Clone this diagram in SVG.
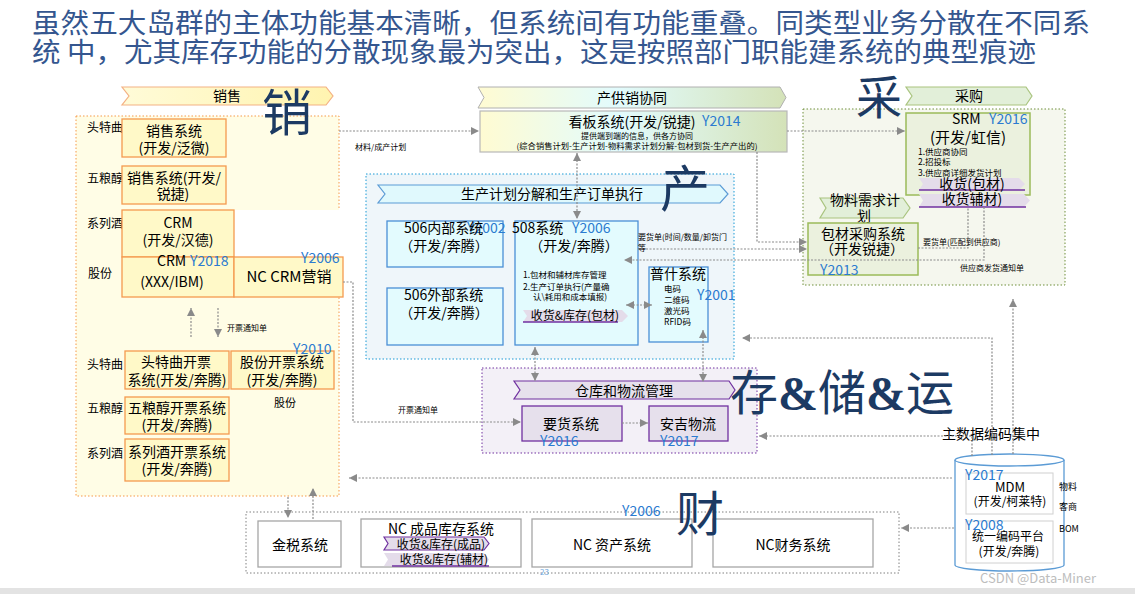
<svg xmlns="http://www.w3.org/2000/svg" width="1135" height="594" viewBox="0 0 1135 594">
<defs>
<linearGradient id="gKb" x1="0" y1="0" x2="1" y2="0">
<stop offset="0" stop-color="#fffbd2"/><stop offset="0.45" stop-color="#e2fbfd"/><stop offset="1" stop-color="#d4e2b8"/>
</linearGradient>
<linearGradient id="gSale" x1="0" y1="0" x2="1" y2="0">
<stop offset="0" stop-color="#fffbd8"/><stop offset="1" stop-color="#fff4b0"/>
</linearGradient>
<marker id="ar" viewBox="0 0 10 10" refX="10" refY="5" markerWidth="8" markerHeight="8" markerUnits="userSpaceOnUse" orient="auto-start-reverse">
<path d="M0,0 L10,5 L0,10 z" fill="#8a8a8a"/>
</marker>
<style>
text{font-family:"Noto Sans CJK SC","Noto Sans",sans-serif;fill:#000}
.t14{font-size:14px}
.t12{font-size:12px}
.lb{font-size:12px}
.sm{font-size:8.5px}
.xs{font-size:8px}
.yr{font-size:14px;fill:#2b7bd0}
.mid{text-anchor:middle}
.wm{font-size:50px;fill:#1c3a63}
.ttl{font-size:27px;fill:#34568f;font-weight:400}
.saleC{fill:#fffde6;stroke:#f59a4a;stroke-width:1;stroke-dasharray:1.5 2}
.saleB{fill:#fff9c8;stroke:#f49a4f;stroke-width:1.3}
.prodC{fill:#eff6fa;stroke:#1a9ad6;stroke-width:1;stroke-dasharray:1.5 2}
.prodB{fill:#e3fbfe;stroke:#4a8fd6;stroke-width:1.3}
.purC{fill:#f5f7ee;stroke:#6f8f3a;stroke-width:1;stroke-dasharray:1.5 2}
.purB{fill:#ebf1de;stroke:#9bbb59;stroke-width:1.5}
.whC{fill:#f3f0f7;stroke:#7030a0;stroke-width:1;stroke-dasharray:1.5 2}
.whB{fill:#e6e0ec;stroke:#7030a0;stroke-width:1.3}
.finC{fill:#ffffff;stroke:#808080;stroke-width:1;stroke-dasharray:1.5 2}
.finB{fill:#ffffff;stroke:#a6a6a6;stroke-width:1.3}
.rib{fill:#e4dcea}
.ul{stroke:#7030a0;stroke-width:1.5}
.cn{fill:none;stroke:#8c8c8c;stroke-width:1.2;stroke-dasharray:2 1.5}
.e{marker-end:url(#ar)}
.b{marker-start:url(#ar);marker-end:url(#ar)}
</style>
</defs>
<rect x="0" y="0" width="1135" height="594" fill="#ffffff"/>
<rect x="0" y="588" width="1135" height="6" fill="#e3e3e3"/>

<g id="title">
<text class="ttl" x="32" y="33" textLength="1058" lengthAdjust="spacingAndGlyphs">虽然五大岛群的主体功能基本清晰，但系统间有功能重叠。同类型业务分散在不同系</text>
<text class="ttl" x="32" y="62" textLength="1004" lengthAdjust="spacingAndGlyphs">统 中，尤其库存功能的分散现象最为突出，这是按照部门职能建系统的典型痕迹</text>
</g>

<!-- Sales -->
<g id="sales">
<polygon points="122,87 326,87 333,96 326,105 122,105 129,96" fill="url(#gSale)" stroke="#f4b183" stroke-width="1.2"/>
<text class="t14 mid" x="227" y="101">销售</text>
<rect class="saleC" x="76" y="116" width="263" height="380"/>
<rect x="234" y="210" width="109" height="47" fill="#ffffff"/>
<text class="lb" x="87" y="132">头特曲</text>
<text class="lb" x="87" y="183">五粮醇</text>
<text class="lb" x="87" y="228">系列酒</text>
<text class="lb" x="88" y="278">股份</text>
</g>
<g id="sales-sys-1">
<rect class="saleB" x="122" y="119" width="104" height="38"/>
<text class="t14 mid" x="174" y="136">销售系统</text>
<text class="t14 mid" x="174" y="153">(开发/泛微)</text>
</g>
<g id="sales-sys-2">
<rect class="saleB" x="122" y="166" width="104" height="38"/>
<text class="t14 mid" x="174" y="183">销售系统(开发/</text>
<text class="t14 mid" x="173" y="199">锐捷)</text>
</g>
<g id="crm-handa">
<rect class="saleB" x="122" y="210" width="112" height="47"/>
<text class="t14 mid" x="178" y="227.5">CRM</text>
<text class="t14 mid" x="178" y="245">(开发/汉德)</text>
</g>
<g id="crm-ibm">
<rect class="saleB" x="122" y="257" width="112" height="40"/>
<text class="t14" x="157" y="266">CRM</text>
<text class="yr" x="190" y="266">Y2018</text>
<text class="t14 mid" x="172" y="287">(XXX/IBM)</text>
</g>
<g id="nc-crm">
<rect class="saleB" x="234" y="257" width="109" height="40"/>
<text class="yr" x="301" y="263">Y2006</text>
<text class="mid" x="289" y="282" style="font-size:15px">NC CRM营销</text>
</g>
<g id="inv-ttq">
<rect class="saleB" x="125" y="351" width="104" height="38"/>
<text class="t14 mid" x="176" y="367">头特曲开票</text>
<text class="t14 mid" x="177" y="385">系统(开发/奔腾)</text>
</g>
<g id="inv-gf">
<rect class="saleB" x="231" y="351" width="103" height="38"/>
<text class="t14 mid" x="282" y="367">股份开票系统</text>
<text class="t14 mid" x="282" y="385">(开发/奔腾)</text>
<text class="yr" x="293" y="354">Y2010</text>
<text class="mid" x="285" y="407" style="font-size:11px">股份</text>
</g>
<g id="inv-wlc">
<rect class="saleB" x="125" y="397" width="104" height="37"/>
<text class="t14 mid" x="177" y="413">五粮醇开票系统</text>
<text class="t14 mid" x="177" y="430">(开发/奔腾)</text>
</g>
<g id="inv-xlj">
<rect class="saleB" x="125" y="439" width="104" height="42"/>
<text class="t14 mid" x="177" y="457">系列酒开票系统</text>
<text class="t14 mid" x="177" y="474">(开发/奔腾)</text>
</g>
<g id="sales-labels">
<text class="lb" x="87" y="369">头特曲</text>
<text class="lb" x="87" y="413">五粮醇</text>
<text class="lb" x="87" y="458">系列酒</text>
</g>

<!-- Kanban -->
<g id="kanban">
<polygon points="478,87 780,87 786,97.5 780,108 478,108 484,97.5" fill="url(#gKb)" stroke="#b0b0b0" stroke-width="1"/>
<text class="t14 mid" x="632" y="103">产供销协同</text>
<rect x="480" y="111" width="307" height="41" fill="url(#gKb)" stroke="#b8b8b8" stroke-width="1.2"/>
<text class="t14 mid" x="632" y="127">看板系统(开发/锐捷)</text>
<text class="yr" x="702" y="126">Y2014</text>
<text class="xs mid" x="637" y="139">提供端到端的信息，供各方协同</text>
<text class="xs mid" x="637" y="149" textLength="241" lengthAdjust="spacingAndGlyphs">(综合销售计划-生产计划-物料需求计划分解-包材到货-生产产出的)</text>
</g>

<!-- Production -->
<g id="production">
<rect class="prodC" x="366" y="174" width="368" height="185"/>
<polygon points="378,185 720,185 728,194 720,203 378,203 385,194" fill="#e0f9fd" stroke="#5b9bd5" stroke-width="1.2"/>
<text class="t14 mid" x="552" y="199">生产计划分解和生产订单执行</text>
</g>
<g id="sys-506-in">
<rect class="prodB" x="387" y="221" width="116" height="46"/>
<text class="yr" x="467" y="233">Y2002</text>
<text class="t14" x="404" y="233">506内部系统</text>
<text class="t14 mid" x="444" y="251">（开发/奔腾）</text>
</g>
<g id="sys-506-out">
<rect class="prodB" x="387" y="288" width="116" height="57"/>
<text class="t14" x="404" y="300">506外部系统</text>
<text class="t14 mid" x="444" y="318">（开发/奔腾）</text>
</g>
<g id="sys-508">
<rect class="prodB" x="515" y="221" width="123" height="124"/>
<text class="t14" x="512" y="233">508系统</text>
<text class="yr" x="572" y="233">Y2006</text>
<text class="t14 mid" x="574" y="251">（开发/奔腾）</text>
<text class="sm" x="523" y="278">1.包材和辅材库存管理</text>
<text class="sm" x="523" y="290">2.生产订单执行(产量确</text>
<text class="sm" x="533" y="300">认\耗用和成本填报)</text>
<polygon class="rib" points="523,310 622,310 628,316 622,322 523,322 527,316"/>
<line class="ul" x1="523" y1="322" x2="618" y2="322"/>
<text class="t12 mid" x="575" y="320">收货&amp;库存(包材)</text>
</g>
<g id="pushi">
<rect class="prodB" x="649" y="267" width="59" height="75"/>
<text class="t14 mid" x="678" y="279">普什系统</text>
<text class="sm" x="664" y="292">电码</text>
<text class="sm" x="664" y="303">二维码</text>
<text class="sm" x="664" y="314">激光码</text>
<text class="sm" x="664" y="325">RFID码</text>
<text class="yr" x="697" y="300">Y2001</text>
</g>

<!-- Purchasing -->
<g id="purchase">
<polygon points="906,87 1026,87 1032,96 1026,105 906,105 912,96" fill="#e2efd9" stroke="#a9c47f" stroke-width="1.2"/>
<text class="t14 mid" x="969" y="101">采购</text>
<rect class="purC" x="803" y="109" width="262" height="176"/>
</g>
<g id="srm">
<rect class="purB" x="906" y="113" width="124" height="82"/>
<text class="t14" x="952" y="124">SRM</text>
<text class="yr" x="989" y="124">Y2016</text>
<text class="mid" x="968" y="143" style="font-size:15px">(开发/虹信)</text>
<text class="sm" x="918" y="154.5">1.供应商协同</text>
<text class="sm" x="918" y="165">2.招投标</text>
<text class="sm" x="918" y="175.5">3.供应商详细发货计划</text>
<polygon class="rib" points="919,178 1019,178 1025,184 1019,190 919,190 923,184"/>
<line class="ul" x1="919" y1="190" x2="1025" y2="190"/>
<text class="t14 mid" x="972" y="189">收货(包材)</text>
<polygon class="rib" points="919,194 1024,194 1030,200.5 1024,207 919,207 923,200.5"/>
<line class="ul" x1="919" y1="207" x2="1026" y2="207"/>
<text class="t14 mid" x="972" y="204">收货辅材)</text>
</g>
<g id="mrp">
<polygon points="820,198 903,198 910,208 903,218 820,218 826,208" fill="#e2efd9" stroke="#a9c47f" stroke-width="1.2"/>
<text class="t14 mid" x="865" y="205">物料需求计</text>
<text class="t14 mid" x="864" y="221">划</text>
</g>
<g id="pkg-purchase">
<rect class="purB" x="808" y="223" width="110" height="52"/>
<text class="t14 mid" x="863" y="238.5">包材采购系统</text>
<text class="t14 mid" x="862" y="254">（开发锐捷）</text>
<text class="yr" x="820" y="275">Y2013</text>
</g>

<!-- Warehouse -->
<g id="warehouse">
<rect class="whC" x="482" y="368" width="275" height="85"/>
<polygon points="514,381 729,381 735,390 729,399 514,399 520,390" fill="#e6e0ec" stroke="#7030a0" stroke-width="1.2"/>
<text class="t14 mid" x="624" y="396">仓库和物流管理</text>
</g>
<g id="yaohuo">
<rect class="whB" x="522" y="406" width="100" height="35"/>
<text class="t14 mid" x="571" y="429">要货系统</text>
<text class="yr" x="540" y="446">Y2016</text>
</g>
<g id="anji">
<rect class="whB" x="649" y="406" width="79" height="35"/>
<text class="t14 mid" x="688" y="429">安吉物流</text>
<text class="yr" x="660" y="446">Y2017</text>
</g>

<!-- Finance -->
<g id="finance">
<rect class="finC" x="246" y="512" width="653" height="61"/>
<text class="yr" x="622" y="516">Y2006</text>
<text x="540" y="575" style="font-size:8px;fill:#6fa8dc">23</text>
</g>
<g id="jinshui">
<rect class="finB" x="258" y="521" width="83" height="46"/>
<text class="t14 mid" x="300" y="550">金税系统</text>
</g>
<g id="nc-stock">
<rect class="finB" x="361" y="519" width="160" height="48"/>
<text class="t14 mid" x="441" y="534">NC 成品库存系统</text>
<polygon points="384,537 484,537 489,543.5 484,550 384,550 388,543.5" fill="#e4dcea" stroke="#7030a0" stroke-width="1.2"/>
<text class="t12 mid" x="441" y="549">收货&amp;库存(成品)</text>
<polygon class="rib" points="384,553 484,553 489,559.5 484,566 384,566 388,559.5"/>
<line class="ul" x1="392" y1="566" x2="489" y2="566"/>
<text class="t12 mid" x="444" y="564">收货&amp;库存(辅材)</text>
</g>
<g id="nc-asset">
<rect class="finB" x="532" y="519" width="160" height="48"/>
<text class="t14 mid" x="612" y="550">NC 资产系统</text>
</g>
<g id="nc-fin">
<rect class="finB" x="713" y="519" width="160" height="48"/>
<text class="t14 mid" x="793" y="550">NC财务系统</text>
</g>

<!-- Master data cylinder -->
<g id="mdm">
<path d="M955,460 V565 A54.5,6 0 0 0 1064,565 V460" fill="#ffffff" stroke="#5b9bd5" stroke-width="1.3"/>
<ellipse cx="1009.5" cy="460" rx="54.5" ry="6" fill="#ffffff" stroke="#5b9bd5" stroke-width="1.3"/>
<rect x="966" y="473" width="87" height="41" fill="#ffffff" stroke="#d0d0d0" stroke-width="1"/>
<rect x="966" y="521" width="87" height="42" fill="#ffffff" stroke="#d0d0d0" stroke-width="1"/>
<text class="yr" x="965" y="480">Y2017</text>
<text class="mid" x="1010" y="492" style="font-size:13px">MDM</text>
<text class="t12 mid" x="1010" y="506">(开发/柯莱特)</text>
<text class="yr" x="965" y="530">Y2008</text>
<text class="t12 mid" x="1008" y="541">统一编码平台</text>
<text class="t12 mid" x="1009" y="556">(开发/奔腾)</text>
<text x="1059" y="490" style="font-size:9px">物料</text>
<text x="1059" y="510" style="font-size:9px">客商</text>
<text x="1059" y="532" style="font-size:9px">BOM</text>
<text class="t14" x="942" y="439">主数据编码集中</text>
</g>

<!-- Connectors -->
<g id="connectors">
<path class="cn e" d="M339,131 H479"/>
<path class="cn e" d="M787,131 H905"/>
<path class="cn b" d="M577,153 V219"/>
<path class="cn e" d="M757,152 V242 H807"/>
<path class="cn e" d="M639,249 H807"/>
<path class="cn e" d="M984,207 V260 H624"/>
<path class="cn" d="M918,248 H968 V207"/>
<path class="cn b" d="M626,305 H652"/>
<path class="cn b" d="M535,347 V381"/>
<path class="cn b" d="M703,330 V382"/>
<path class="cn e" d="M343,282 H353 V422 H521"/>
<path class="cn e" d="M622,423 H648"/>
<path class="cn e" d="M191,337 V308"/>
<path class="cn e" d="M218,308 V337"/>
<path class="cn e" d="M288,497 V518"/>
<path class="cn e" d="M313,519 V488"/>
<path class="cn e" d="M952,478 H349"/>
<path class="cn e" d="M972,456 V436 H759"/>
<path class="cn e" d="M992,455 V338 H742"/>
<path class="cn e" d="M1013,454 V299"/>
<path class="cn e" d="M954,528 H901"/>
<text class="xs" x="355" y="150">材料/成产计划</text>
<text class="xs" x="227" y="331">开票通知单</text>
<text class="xs" x="398" y="413">开票通知单</text>
<text class="xs" x="638" y="240">要货单(时间/数量/卸货门</text>
<text class="xs" x="638" y="251">等</text>
<text class="xs" x="923" y="245">要货单(匹配到供应商)</text>
<text class="xs" x="960" y="271">供应商发货通知单</text>
</g>

<!-- Big section characters -->
<g id="section-marks">
<text class="wm" x="262" y="131">销</text>
<text class="wm" x="660" y="207">产</text>
<text class="wm" x="856" y="114" style="font-size:46px">采</text>
<text class="wm" x="730" y="410" style="font-size:48px">存<tspan style="font-family:'Liberation Serif',serif;font-weight:bold">&amp;</tspan>储<tspan style="font-family:'Liberation Serif',serif;font-weight:bold">&amp;</tspan>运</text>
<text class="wm" x="676" y="531" style="font-size:48px">财</text>
</g>

<text x="980" y="583" style="font-size:13px;fill:#bdbdbd">CSDN @Data-Miner</text>
</svg>
